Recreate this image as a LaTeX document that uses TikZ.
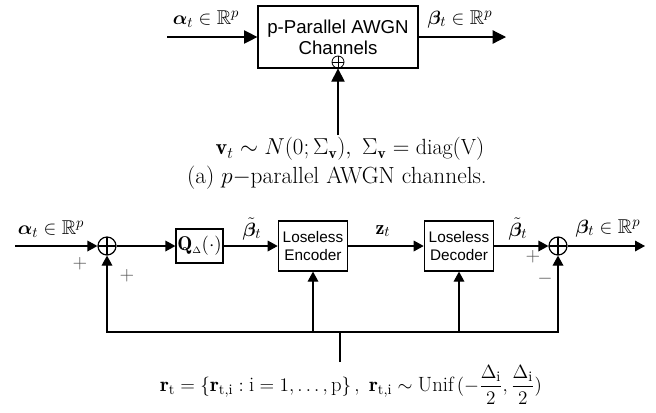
\documentclass[tikz,border=0pt]{standalone}
\usepackage{amsmath}
\usepackage{amssymb}
\usepackage{bm}
\usepackage{fontspec}
\newfontfamily\arialfont{Liberation Sans}
\usepackage{tikz}
\usetikzlibrary{positioning}
\usetikzlibrary{arrows.meta}

\tikzset{
  chanbox/.style={draw, align=center, minimum width=120pt, minimum height=46.5pt,
    font=\arialfont\fontsize{14}{15.5}\selectfont},
  codebox/.style={draw, align=center, minimum width=51.5pt, minimum height=37.5pt,
    font=\arialfont\fontsize{11.5}{13}\selectfont},
  qbox/.style={draw, minimum width=35.25pt, minimum height=25.5pt, inner sep=0pt,
    font=\fontsize{15}{17}\selectfont},
  sumnode/.style={draw, circle, minimum size=13.5pt, inner sep=0pt,
    path picture={\draw (path picture bounding box.north) -- (path picture bounding box.south)
      (path picture bounding box.west) -- (path picture bounding box.east);}},
  lab/.style={inner sep=0pt, font=\fontsize{15}{17}\selectfont},
  sgn/.style={inner sep=0pt, text=black!70, font=\fontsize{14}{16}\selectfont}
}

\begin{document}
\begin{tikzpicture}[x=0.75pt, y=-0.75pt, line width=0.9pt,
  >={Triangle[length=7.5pt, width=8pt]}]

\useasboundingbox (0,0) rectangle (656,412);

% (a) parallel channels
\node[chanbox] (chan) at (338,37) {p-Parallel AWGN\\Channels};
\node[sumnode, minimum size=9pt, line width=0.6pt] (nsum) at (338,62) {};
\coordinate (ain) at (167,37);
\coordinate (bout) at (506,37);
\coordinate (vin) at (338,135);

\draw[-{Triangle[length=10pt, width=10pt]}] (ain) -- (chan.west);
\draw[-{Triangle[length=10pt, width=10pt]}] (chan.east) -- (bout);
\draw[-{Triangle[length=10pt, width=10pt]}] (vin) -- (nsum.south);

\node[lab] (alab) at (206,19) {$\boldsymbol{\alpha}_{t} \in \mathbb{R}^{p}$};
\node[lab] (blab) at (460,19) {$\boldsymbol{\beta}_{t} \in \mathbb{R}^{p}$};
\node[lab, font=\fontsize{16.5}{18}\selectfont] (vlab) at (350,149)
  {$\mathbf{v}_{t} \sim N(0;\Sigma_{\mathbf{v}}),\ \Sigma_{\mathbf{v}} = \mathrm{diag}(\mathrm{V})$};
\node[lab, font=\fontsize{17.5}{19}\selectfont] (capa) at (337,178)
  {(a) $p$$-$parallel AWGN channels.};

% (b) dithered quantiser
\coordinate (xin) at (15,246);
\node[sumnode] (s1) at (107,246) {};
\node[qbox] (quant) at (199.5,246) {$\mathbf{Q}_{\scriptscriptstyle\Delta}(\cdot)$};
\node[codebox] (enc) at (313,246) {Loseless\\Encoder};
\node[codebox] (dec) at (459,246) {Loseless\\Decoder};
\node[sumnode] (s2) at (558,246) {};
\coordinate (yout) at (645,246);

\draw[->] (xin) -- (s1.west);
\draw[->] (s1.east) -- (quant.west);
\draw[->] (quant.east) -- (enc.west);
\draw[->] (enc.east) -- (dec.west);
\draw[->] (dec.east) -- (s2.west);
\draw[->] (s2.east) -- (yout);

% dither feedback
\coordinate (fb) at (340,332);
\coordinate (rin) at (340,362);
\draw (rin) -- (fb);
\draw[->] (fb) -| (s1.south);
\draw[->] (fb) -| (s2.south);
\draw[->] (enc.south |- fb) -- (enc.south);
\draw[->] (dec.south |- fb) -- (dec.south);

\node[lab] (xlab) at (51,229) {$\boldsymbol{\alpha}_{t} \in \mathbb{R}^{p}$};
\node[lab] (qlab) at (252,229) {$\tilde{\boldsymbol{\beta}}_{t}$};
\node[lab] (zlab) at (383,231) {$\mathbf{z}_{t}$};
\node[lab] (dlab) at (518,229) {$\tilde{\boldsymbol{\beta}}_{t}$};
\node[lab] (ylab) at (608,228) {$\boldsymbol{\beta}_{t} \in \mathbb{R}^{p}$};

\node[sgn] (p1) at (80,264) {$+$};
\node[sgn] (p2) at (127,276) {$+$};
\node[sgn] (p3) at (533,257) {$+$};
\node[sgn] (m1) at (545,279) {$-$};

\node[lab, font=\fontsize{15.5}{18}\selectfont] (rlab) at (351,385)
  {$\mathbf{r}_{\mathrm{t}} = \left\{\mathbf{r}_{\mathrm{t,i}} : \mathrm{i} = 1,\dots,\mathrm{p}\right\},\ 
    \mathbf{r}_{\mathrm{t,i}} \sim \mathrm{Unif}\,(-\dfrac{\Delta_{\mathrm{i}}}{2},\dfrac{\Delta_{\mathrm{i}}}{2})$};

\end{tikzpicture}
\end{document}
